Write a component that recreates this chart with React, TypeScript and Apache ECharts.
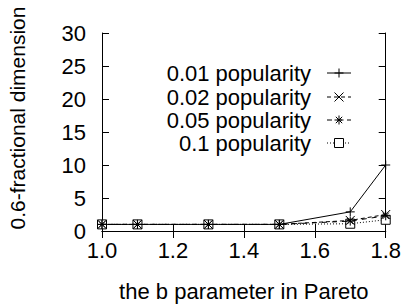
import React, { useEffect, useRef } from "react";
import * as echarts from "echarts";

const bValues = [1.0, 1.1, 1.3, 1.5, 1.7, 1.8];
const pop001 = [1.0, 1.0, 1.0, 1.0, 2.9, 10.0];
const pop002 = [1.0, 1.0, 1.0, 1.0, 1.6, 2.5];
const pop005 = [1.0, 1.0, 1.0, 1.0, 1.5, 2.3];
const pop01 = [1.0, 1.0, 1.0, 1.0, 1.1, 1.7];
const seriesNames = ["0.01 popularity", "0.02 popularity", "0.05 popularity", "0.1 popularity"];
const xTitle = "the b parameter in Pareto";
const yTitle = "0.6-fractional dimension";

const FONT = "Liberation Sans";
const PLUS = "path://M5,0L5,10M0,5L10,5";
const CROSS = "path://M0,0L10,10M0,10L10,0";
const STAR = "path://M5,0L5,10M0,5L10,5M1.5,1.5L8.5,8.5M1.5,8.5L8.5,1.5";
const SQUARE = "path://M0,0L10,0L10,10L0,10Z";

const symbols = [PLUS, CROSS, STAR, SQUARE];
const dashes: any[] = ["solid", [4, 3], [5, 5], [1, 2]];
const allData = [pop001, pop002, pop005, pop01];

function legendMarker(i: number, cx: number, cy: number) {
  const s = 4.5;
  const st = { stroke: "#000", lineWidth: 1, fill: "none" };
  const line = (x1: number, y1: number, x2: number, y2: number) => ({
    type: "line",
    shape: { x1, y1, x2, y2 },
    style: st,
  });
  if (i === 0) return [line(cx - s, cy, cx + s, cy), line(cx, cy - s, cx, cy + s)];
  if (i === 1) return [line(cx - s, cy - s, cx + s, cy + s), line(cx - s, cy + s, cx + s, cy - s)];
  if (i === 2)
    return [
      line(cx - s, cy, cx + s, cy),
      line(cx, cy - s, cx, cy + s),
      line(cx - 3.2, cy - 3.2, cx + 3.2, cy + 3.2),
      line(cx - 3.2, cy + 3.2, cx + 3.2, cy - 3.2),
    ];
  return [{ type: "rect", shape: { x: cx - s, y: cy - s, width: 2 * s, height: 2 * s }, style: { stroke: "#000", lineWidth: 1, fill: "#fff" } }];
}

export default function App() {
  const ref = useRef<HTMLDivElement>(null);
  useEffect(() => {
    if (!ref.current) return;
    const chart = echarts.init(ref.current, null, { renderer: "svg" });
    const legendRows = [73, 97, 120, 143];
    const graphics: any[] = [
      {
        type: "text",
        x: 17,
        y: 118,
        rotation: Math.PI / 2,
        style: {
          text: yTitle,
          fill: "#000",
          font: `21px '${FONT}'`,
          textAlign: "center",
          textVerticalAlign: "middle",
        },
      },
    ];
    seriesNames.forEach((n, i) => {
      const y = legendRows[i];
      graphics.push({
        type: "text",
        x: 311,
        y,
        style: { text: n, fill: "#000", font: `22px '${FONT}'`, textAlign: "right", textVerticalAlign: "middle" },
      });
      graphics.push({
        type: "line",
        shape: { x1: 327, y1: y, x2: 351, y2: y },
        style: { stroke: "#000", lineWidth: 1, lineDash: dashes[i] === "solid" ? null : dashes[i] },
      });
      legendMarker(i, 339, y).forEach((g) => graphics.push(g));
    });

    const axisCommon = {
      axisLine: { show: true, lineStyle: { color: "#000", width: 1 } },
      axisTick: { show: true, inside: true, length: 7, lineStyle: { color: "#000" } },
      splitLine: { show: false },
    };

    chart.setOption({
      animation: false,
      backgroundColor: "#fff",
      grid: { left: 102, right: 18, top: 33, bottom: 73 },
      xAxis: [
        {
          type: "value",
          min: 1.0,
          max: 1.8,
          interval: 0.2,
          position: "bottom",
          ...axisCommon,
          axisLabel: {
            margin: 8,
            color: "#000",
            fontFamily: FONT,
            fontSize: 22,
            formatter: (v: number) => v.toFixed(1),
          },
          name: xTitle,
          nameLocation: "middle",
          nameGap: 49,
          nameTextStyle: { color: "#000", fontFamily: FONT, fontSize: 22 },
        },
        {
          type: "value",
          min: 1.0,
          max: 1.8,
          interval: 0.2,
          position: "top",
          ...axisCommon,
          axisLabel: { show: false },
        },
      ],
      yAxis: [
        {
          type: "value",
          min: 0,
          max: 30,
          interval: 5,
          position: "left",
          ...axisCommon,
          axisLabel: { margin: 16, color: "#000", fontFamily: FONT, fontSize: 22 },
        },
        {
          type: "value",
          min: 0,
          max: 30,
          interval: 5,
          position: "right",
          ...axisCommon,
          axisLabel: { show: false },
        },
      ],
      series: allData.map((d, i) => ({
        type: "line",
        name: seriesNames[i],
        data: bValues.map((x, j) => [x, d[j]]),
        symbol: symbols[i],
        symbolSize: 9,
        showAllSymbol: true,
        lineStyle: { color: "#000", width: 1, type: dashes[i] },
        itemStyle: { color: i === 3 ? "#fff" : "none", borderColor: "#000", borderWidth: 1 },
        z: 10 - i,
      })),
      graphic: graphics,
    });
    return () => chart.dispose();
  }, []);
  return <div ref={ref} style={{ width: 404, height: 307, position: "absolute", left: 0, top: 0 }} />;
}
